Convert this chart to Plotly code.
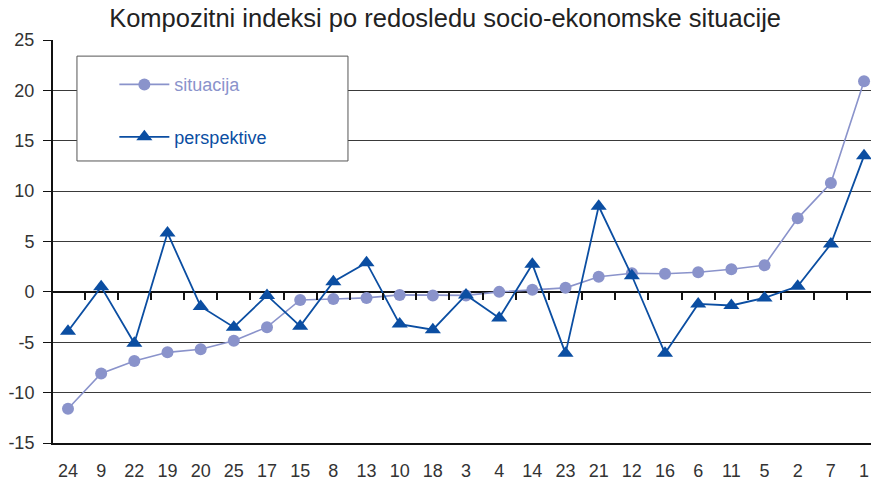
import plotly.graph_objects as go

categories = ["24", "9", "22", "19", "20", "25", "17", "15", "8", "13", "10", "18", "3",
              "4", "14", "23", "21", "12", "16", "6", "11", "5", "2", "7", "1"]
situacija = [-11.6, -8.1, -6.85, -6.0, -5.7, -4.85, -3.5, -0.8, -0.7, -0.6, -0.3, -0.35, -0.35,
             0.0, 0.2, 0.4, 1.5, 1.85, 1.8, 1.95, 2.25, 2.65, 7.3, 10.8, 20.9]
perspektive = [-3.9, 0.5, -5.1, 5.85, -1.45, -3.5, -0.35, -3.4, 1.0, 2.9, -3.2, -3.75, -0.3,
               -2.6, 2.75, -6.1, 8.5, 1.6, -6.1, -1.2, -1.35, -0.6, 0.55, 4.75, 13.5]
y_ticks = [-15, -10, -5, 0, 5, 10, 15, 20, 25]
y_tick_labels = ["-15", "-10", "-5", "0", "5", "10", "15", "20", "25"]

C_SIT = "#8A93CB"
C_PER = "#0B4EA2"
FONT = "Liberation Sans"

idx = list(range(len(categories)))

fig = go.Figure()
fig.add_trace(go.Scatter(
    x=idx, y=situacija, mode="lines+markers",
    name=f"<span style='color:{C_SIT}'>situacija</span>",
    line=dict(color=C_SIT, width=1.6),
    marker=dict(symbol="circle", size=12, color=C_SIT),
    legendgroup="a",
))
fig.add_trace(go.Scatter(
    x=idx, y=perspektive, mode="lines+markers",
    name=f"<span style='color:{C_PER}'>perspektive</span>",
    line=dict(color=C_PER, width=1.8),
    marker=dict(symbol="triangle-up", size=14, color=C_PER),
    legendgroup="b",
))
# empty helper trace so the tick-mark axis on the zero line is drawn
fig.add_trace(go.Scatter(x=[None], y=[None], xaxis="x2", yaxis="y",
                         showlegend=False, hoverinfo="skip"))

x_range = [-0.452, 24.21]

fig.update_layout(
    width=871, height=483,
    margin=dict(l=53, r=0, t=40, b=40),
    paper_bgcolor="white", plot_bgcolor="white",
    font=dict(family=FONT, size=18, color="#333333"),
    title=dict(text="Kompozitni indeksi po redosledu socio-ekonomske situacije",
               x=0.511, xref="container", xanchor="center",
               y=0.963, yref="container", yanchor="middle",
               font=dict(family=FONT, size=25.5, color="#222222")),
    xaxis=dict(
        range=x_range, tickmode="array", tickvals=idx, ticktext=categories,
        showgrid=False, zeroline=False, showline=True, linecolor="#111111", linewidth=2,
        ticks="", ticklabelstandoff=10,
        tickfont=dict(family=FONT, size=18, color="#333333"),
    ),
    xaxis2=dict(
        range=x_range, overlaying="x", anchor="free", position=0.375,
        tickmode="array", tickvals=[i + 0.5 for i in idx[:-1]],
        ticks="outside", ticklen=7, tickwidth=2, tickcolor="#111111",
        showticklabels=False, showgrid=False, zeroline=False, showline=False,
    ),
    yaxis=dict(
        range=[-15, 25], tickmode="array", tickvals=y_ticks, ticktext=y_tick_labels,
        showgrid=True, gridcolor="#3a3a3a", gridwidth=1,
        zeroline=True, zerolinecolor="#111111", zerolinewidth=2,
        showline=True, linecolor="#111111", linewidth=2,
        ticks="outside", ticklen=8, tickcolor="#111111", tickwidth=1,
        ticklabelstandoff=5,
        tickfont=dict(family=FONT, size=18, color="#333333"),
    ),
    showlegend=True,
    legend=dict(
        x=0.075, y=0.935, xanchor="left", yanchor="top",
        bgcolor="rgba(0,0,0,0)", borderwidth=0,
        tracegroupgap=26, itemwidth=50,
        font=dict(family=FONT, size=18),
    ),
    shapes=[dict(
        type="rect", xref="paper", yref="paper",
        x0=0.0293, x1=0.3606, y0=0.6998, y1=0.960,
        line=dict(color="#555555", width=1), fillcolor="white", layer="above",
    )],
)

fig.write_html("out.html",
               config={"displayModeBar": False},
               post_script="document.body.style.margin='0';document.body.style.overflow='hidden';")
